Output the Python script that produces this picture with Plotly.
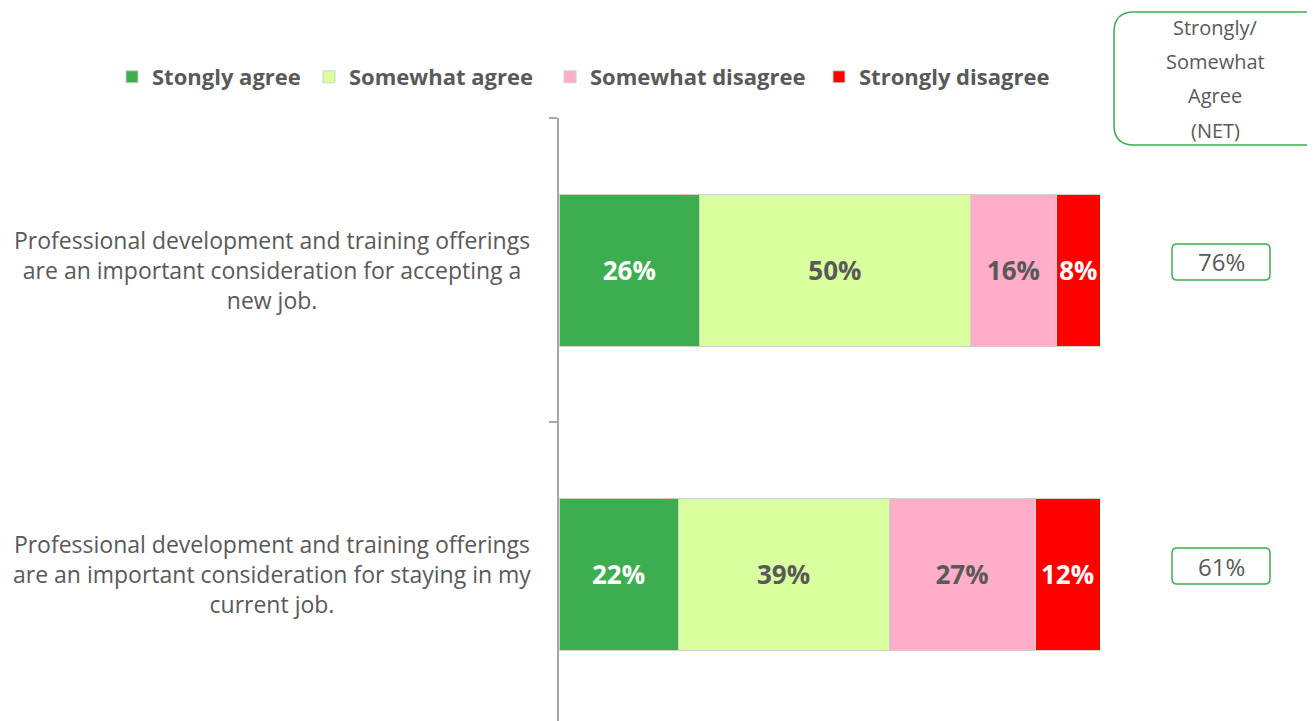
import plotly.graph_objects as go

# ---- data ----
statements = [
    "Professional development and training offerings<br>are an important consideration for accepting a<br>new job.",
    "Professional development and training offerings<br>are an important consideration for staying in my<br>current job.",
]
series_names = ["Stongly agree", "Somewhat agree", "Somewhat disagree", "Strongly disagree"]
strongly_agree = [26, 22]
somewhat_agree = [50, 39]
somewhat_disagree = [16, 27]
strongly_disagree = [8, 12]
net_header_lines = ["Strongly/", "Somewhat", "Agree", "(NET)"]

series_values = [strongly_agree, somewhat_agree, somewhat_disagree, strongly_disagree]
colors = ["#3DAE4F", "#D9FF9E", "#FFADC8", "#FF0000"]
text_colors = ["#FFFFFF", "#595959", "#595959", "#FFFFFF"]
net = [a + b for a, b in zip(strongly_agree, somewhat_agree)]

W, H = 1315, 721
OFF = 8  # page body margin
FONT = "Open Sans"
GREY = "#595959"
GREEN = "#3DAE4F"


def px(x):
    return (x - OFF) / W


def py(y):
    return 1 - (y - OFF) / H


ypos = list(range(len(statements)))
legend_ids = ["legend", "legend2", "legend3", "legend4"]
legend_square_x = [126, 323, 564, 833]

fig = go.Figure()
for name, vals, col, tcol, lg in zip(series_names, series_values, colors, text_colors, legend_ids):
    fig.add_trace(go.Bar(
        y=ypos, x=vals, name=name, orientation="h",
        marker=dict(color=col, line=dict(color="#D0D0D0", width=1)),
        width=0.5,
        text=[f"{v}%" for v in vals],
        textposition="inside", insidetextanchor="middle",
        textangle=0, constraintext="none",
        textfont=dict(family=FONT, size=26, color=tcol, weight="bold"),
        hoverinfo="skip", legend=lg,
    ))

# plot area geometry (screen pixels)
x0p, x1p = 559, 1100
ytop = 118
cat_px = 304
first_center = 270
net_shift = 8

annotations = []
shapes = []
for i, (lab, n) in enumerate(zip(statements, net)):
    annotations.append(dict(
        x=px(272), xref="paper", y=i, yref="y", text=lab, showarrow=False,
        xanchor="center", yanchor="middle", align="center",
        font=dict(family=FONT, size=23, color=GREY),
    ))
    annotations.append(dict(
        x=px(1221), xref="paper", y=i, yref="y", text=f"{n}%", showarrow=False,
        xanchor="center", yanchor="middle", yshift=net_shift,
        font=dict(family=FONT, size=24, color=GREY),
    ))
    # rounded box around NET value, anchored to the category
    w2, h2, r = 49, 18, 5
    ya, yb = -h2 + net_shift, h2 + net_shift
    path = (f"M{-w2 + r},{ya} L{w2 - r},{ya} Q{w2},{ya} {w2},{ya + r} "
            f"L{w2},{yb - r} Q{w2},{yb} {w2 - r},{yb} L{-w2 + r},{yb} "
            f"Q{-w2},{yb} {-w2},{yb - r} L{-w2},{ya + r} Q{-w2},{ya} {-w2 + r},{ya} Z")
    shapes.append(dict(
        type="path", xref="paper", yref="y",
        xsizemode="pixel", ysizemode="pixel",
        xanchor=px(1221), yanchor=i, path=path,
        line=dict(color=GREEN, width=1.5), fillcolor="rgba(0,0,0,0)",
    ))

# header box (rounded rect) in paper coords
bx0, bx1, by0, by1, rr = 1114, 1330, 12, 145, 20
hp = (f"M{px(bx0 + rr)},{py(by0)} L{px(bx1 - rr)},{py(by0)} Q{px(bx1)},{py(by0)} {px(bx1)},{py(by0 + rr)} "
      f"L{px(bx1)},{py(by1 - rr)} Q{px(bx1)},{py(by1)} {px(bx1 - rr)},{py(by1)} "
      f"L{px(bx0 + rr)},{py(by1)} Q{px(bx0)},{py(by1)} {px(bx0)},{py(by1 - rr)} "
      f"L{px(bx0)},{py(by0 + rr)} Q{px(bx0)},{py(by0)} {px(bx0 + rr)},{py(by0)} Z")
shapes.append(dict(type="path", xref="paper", yref="paper", path=hp,
                   line=dict(color=GREEN, width=1.5), fillcolor="rgba(0,0,0,0)"))
for k, line in enumerate(net_header_lines):
    annotations.append(dict(
        x=px(1215), xref="paper", y=py(28 + 34 * k), yref="paper", text=line, showarrow=False,
        xanchor="center", yanchor="middle",
        font=dict(family=FONT, size=20, color=GREY),
    ))

fig_bottom_screen = H + OFF
bottom_units = (fig_bottom_screen - first_center) / cat_px

legend_common = dict(
    orientation="h", xanchor="left", y=py(77), yanchor="middle",
    font=dict(family=FONT, size=22, color=GREY, weight="bold"),
    itemwidth=30, bgcolor="rgba(0,0,0,0)",
)
legend_layout = {}
for lg, sx in zip(legend_ids, legend_square_x):
    legend_layout[lg] = dict(legend_common, x=px(sx - 14))

fig.update_layout(
    width=W, height=H,
    barmode="stack",
    plot_bgcolor="white", paper_bgcolor="white",
    margin=dict(l=0, r=0, t=0, b=0),
    showlegend=True,
    xaxis=dict(domain=[px(x0p), px(x1p)], range=[0, 100], visible=False, fixedrange=True),
    yaxis=dict(
        domain=[0, py(ytop)],
        range=[bottom_units, -0.5],
        tickvals=[-0.5, 0.5, 1.5], ticktext=["", "", ""],
        ticks="outside", ticklen=8, tickcolor="#A6A6A6", tickwidth=2,
        showline=True, linecolor="#A6A6A6", linewidth=2,
        showgrid=False, zeroline=False,
    ),
    annotations=annotations,
    shapes=shapes,
    font=dict(family=FONT, color=GREY),
    **legend_layout,
)

fig.write_html("out.html")
